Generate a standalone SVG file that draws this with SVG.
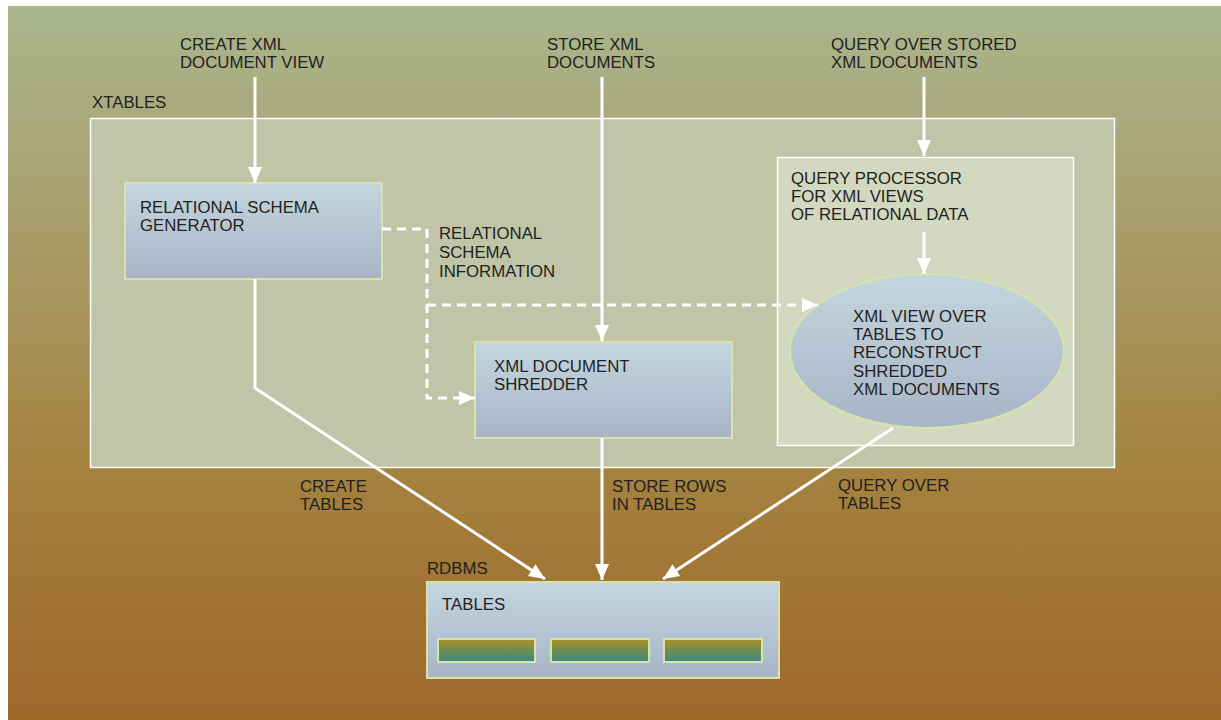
<svg xmlns="http://www.w3.org/2000/svg" width="1221" height="720" viewBox="0 0 1221 720">
<defs>
<linearGradient id="bg" x1="0" y1="0" x2="0" y2="1">
<stop offset="0" stop-color="#aab68d"/>
<stop offset="0.2" stop-color="#a9a679"/>
<stop offset="0.65" stop-color="#a5823f"/>
<stop offset="1" stop-color="#9e6829"/>
</linearGradient>
<linearGradient id="box" x1="0" y1="0" x2="0" y2="1">
<stop offset="0" stop-color="#c3d6de"/>
<stop offset="1" stop-color="#a8b4c7"/>
</linearGradient>
<linearGradient id="bar" x1="0" y1="0" x2="0" y2="1">
<stop offset="0" stop-color="#ad8f26"/>
<stop offset="1" stop-color="#348a80"/>
</linearGradient>
<marker id="ah" markerUnits="userSpaceOnUse" markerWidth="16" markerHeight="14" refX="16" refY="7" orient="auto">
<path d="M0,0 L16,7 L0,14 z" fill="#ffffff"/>
</marker>
</defs>
<style>
text{font-family:"Liberation Sans",Arial,sans-serif;font-size:16.8px;fill:#231f20}
.node{fill:url(#box);stroke:#d9e2aa;stroke-width:2}
.bar{fill:url(#bar);stroke:#d9e4aa;stroke-width:2}
.con{fill:none;stroke:#ffffff;stroke-width:3;marker-end:url(#ah)}
.dash{stroke-dasharray:9 6}
</style>
<rect x="8" y="6" width="1213" height="714" fill="url(#bg)"/>

<g id="labels-top">
<text x="180" y="50">CREATE XML</text>
<text x="180" y="68">DOCUMENT VIEW</text>
<text x="547" y="50">STORE XML</text>
<text x="547" y="68">DOCUMENTS</text>
<text x="831" y="50">QUERY OVER STORED</text>
<text x="831" y="68">XML DOCUMENTS</text>
</g>

<g id="xtables">
<rect x="90.5" y="118.5" width="1024" height="349" fill="#c0c5a8" stroke="#ffffff" stroke-width="1.5"/>
<text x="92" y="108">XTABLES</text>
</g>

<g id="query-processor">
<rect x="777.5" y="157.5" width="296" height="288" fill="#d3d8c0" stroke="#ffffff" stroke-width="1.5"/>
<text x="791" y="184">QUERY PROCESSOR</text>
<text x="791" y="202">FOR XML VIEWS</text>
<text x="791" y="220">OF RELATIONAL DATA</text>
</g>

<g id="schema-generator">
<rect class="node" x="125" y="183" width="257" height="96"/>
<text x="140" y="213">RELATIONAL SCHEMA</text>
<text x="140" y="231">GENERATOR</text>
</g>

<g id="shredder">
<rect class="node" x="475" y="342" width="257" height="96"/>
<text x="494" y="372">XML DOCUMENT</text>
<text x="494" y="390">SHREDDER</text>
</g>

<g id="xml-view">
<ellipse class="node" cx="927" cy="351" rx="137" ry="77"/>
<text x="853" y="322">XML VIEW OVER</text>
<text x="853" y="340">TABLES TO</text>
<text x="853" y="358">RECONSTRUCT</text>
<text x="853" y="377">SHREDDED</text>
<text x="853" y="395">XML DOCUMENTS</text>
</g>

<g id="rdbms">
<text x="427" y="574">RDBMS</text>
<rect class="node" x="427" y="582" width="352" height="96"/>
<text x="442" y="610">TABLES</text>
<rect class="bar" x="438" y="639" width="97" height="23"/>
<rect class="bar" x="551" y="639" width="98" height="23"/>
<rect class="bar" x="664" y="639" width="98" height="23"/>
</g>

<g id="connectors">
<line class="con" x1="255" y1="77" x2="255" y2="183"/>
<line class="con" x1="602" y1="77" x2="602" y2="341"/>
<line class="con" x1="924" y1="77" x2="924" y2="156"/>
<line class="con" x1="924" y1="232" x2="924" y2="274"/>
<polyline class="con dash" points="382,229 427,229 427,398 475,398"/>
<line class="con dash" x1="427" y1="305" x2="818" y2="305"/>
<polyline class="con" points="255,279 255,388 545,579"/>
<line class="con" x1="602" y1="438" x2="602" y2="580"/>
<line class="con" x1="893" y1="428" x2="663" y2="579"/>
</g>

<g id="connector-labels">
<text x="439" y="239">RELATIONAL</text>
<text x="439" y="258">SCHEMA</text>
<text x="439" y="277">INFORMATION</text>
<text x="300" y="492">CREATE</text>
<text x="300" y="510">TABLES</text>
<text x="612" y="492">STORE ROWS</text>
<text x="612" y="510">IN TABLES</text>
<text x="838" y="491">QUERY OVER</text>
<text x="838" y="509">TABLES</text>
</g>
</svg>
